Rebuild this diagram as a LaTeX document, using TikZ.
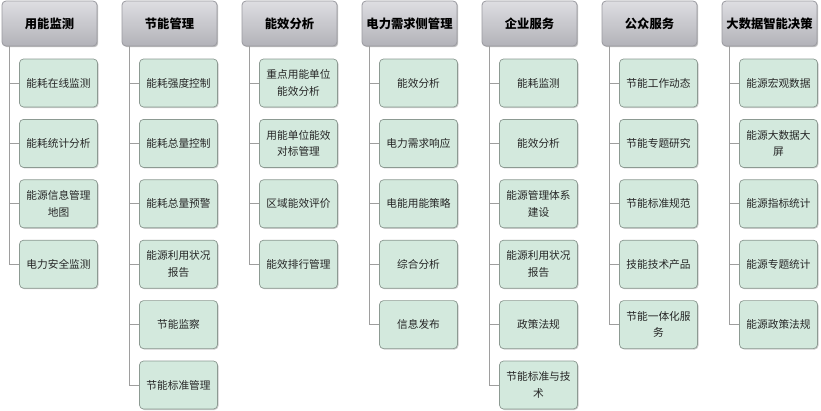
\documentclass[tikz,border=0pt]{standalone}
\usepackage{fontspec}
\setmainfont{Noto Sans CJK SC}
\usetikzlibrary{shadows}
\definecolor{hdtop}{HTML}{DEDEE2}
\definecolor{hdbot}{HTML}{B2B2B8}
\definecolor{hdline}{HTML}{9A9AA0}
\definecolor{chfill}{HTML}{D3E9DD}
\definecolor{chline}{HTML}{8C9A92}
\definecolor{trunk}{HTML}{9E9E9E}
\definecolor{txt}{HTML}{262626}
\tikzset{
  hd/.style={draw=hdline, line width=0.8pt, rounded corners=4pt, top color=hdtop, bottom color=hdbot,
    minimum width=95pt, minimum height=45pt, inner sep=1pt,
    font=\fontsize{12.3}{14}\selectfont\bfseries, text=black,
    drop shadow={shadow xshift=1.2pt, shadow yshift=-1.2pt, fill=black, opacity=0.25}},
  ch/.style={draw=chline, line width=0.7pt, rounded corners=4pt, fill=chfill,
    minimum width=78pt, minimum height=48pt, inner sep=1pt, align=center,
    font=\fontsize{10.7}{16.5}\selectfont, text=txt,
    drop shadow={shadow xshift=1pt, shadow yshift=-1pt, fill=black, opacity=0.2}},
  br/.style={draw=trunk, line width=0.9pt}
}
\begin{document}
\begin{tikzpicture}[x=1pt,y=-1pt]
\useasboundingbox (0,0) rectangle (821,410);
% column 1
\node[hd] (h1) at (49.5,23.5) {用能监测};
\node[ch] (c11) at (58.5,83) {能耗在线监测};
\node[ch] (c12) at (58.5,143.4) {能耗统计分析};
\node[ch] (c13) at (58.5,203.8) {能源信息管理\\地图};
\node[ch] (c14) at (58.5,264.2) {电力安全监测};
% column 2
\node[hd] (h2) at (169.5,23.5) {节能管理};
\node[ch] (c21) at (178.5,83) {能耗强度控制};
\node[ch] (c22) at (178.5,143.4) {能耗总量控制};
\node[ch] (c23) at (178.5,203.8) {能耗总量预警};
\node[ch] (c24) at (178.5,264.2) {能源利用状况\\报告};
\node[ch] (c25) at (178.5,324.6) {节能监察};
\node[ch] (c26) at (178.5,385) {节能标准管理};
% column 3
\node[hd] (h3) at (289.5,23.5) {能效分析};
\node[ch] (c31) at (298.5,83) {重点用能单位\\能效分析};
\node[ch] (c32) at (298.5,143.4) {用能单位能效\\对标管理};
\node[ch] (c33) at (298.5,203.8) {区域能效评价};
\node[ch] (c34) at (298.5,264.2) {能效排行管理};
% column 4
\node[hd] (h4) at (409.5,23.5) {电力需求侧管理};
\node[ch] (c41) at (418.5,83) {能效分析};
\node[ch] (c42) at (418.5,143.4) {电力需求响应};
\node[ch] (c43) at (418.5,203.8) {电能用能策略};
\node[ch] (c44) at (418.5,264.2) {综合分析};
\node[ch] (c45) at (418.5,324.6) {信息发布};
% column 5
\node[hd] (h5) at (529.5,23.5) {企业服务};
\node[ch] (c51) at (538.5,83) {能耗监测};
\node[ch] (c52) at (538.5,143.4) {能效分析};
\node[ch] (c53) at (538.5,203.8) {能源管理体系\\建设};
\node[ch] (c54) at (538.5,264.2) {能源利用状况\\报告};
\node[ch] (c55) at (538.5,324.6) {政策法规};
\node[ch] (c56) at (538.5,385) {节能标准与技\\术};
% column 6
\node[hd] (h6) at (649.5,23.5) {公众服务};
\node[ch] (c61) at (658.5,83) {节能工作动态};
\node[ch] (c62) at (658.5,143.4) {节能专题研究};
\node[ch] (c63) at (658.5,203.8) {节能标准规范};
\node[ch] (c64) at (658.5,264.2) {技能技术产品};
\node[ch] (c65) at (658.5,324.6) {节能一体化服\\务};
% column 7
\node[hd] (h7) at (769.5,23.5) {大数据智能决策};
\node[ch] (c71) at (778.5,83) {能源宏观数据};
\node[ch] (c72) at (778.5,143.4) {能源大数据大\\屏};
\node[ch] (c73) at (778.5,203.8) {能源指标统计};
\node[ch] (c74) at (778.5,264.2) {能源专题统计};
\node[ch] (c75) at (778.5,324.6) {能源政策法规};
% connectors
\foreach \c/\n in {1/4,2/6,3/4,4/5,5/6,6/5,7/5}{
  \foreach \k in {1,...,\n}{
    \draw[br] ([xshift=8pt]h\c.south west) |- (c\c\k.west);
  }
}
\end{tikzpicture}
\end{document}
